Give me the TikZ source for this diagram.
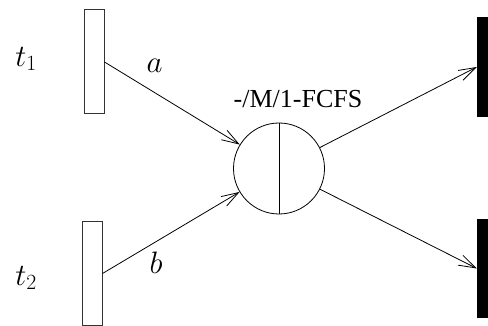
\RequirePackage{fix-cm}
\documentclass[tikz,border=0pt]{standalone}
\usepackage{fontspec}
\setmainfont{Liberation Serif}
\usepackage{tikz}
\usetikzlibrary{arrows.meta, positioning}

\begin{document}
\begin{tikzpicture}[x=1pt, y=-1pt,
    trans/.style={rectangle, draw=black!80, line width=1pt, minimum width=20pt, inner sep=0pt},
    sink/.style={rectangle, fill=black, minimum width=11pt, inner sep=0pt},
    station/.style={circle, draw, line width=0.8pt, minimum size=91pt, inner sep=0pt},
    mlabel/.style={font=\fontsize{31}{37}\selectfont, inner sep=0pt},
    arrow/.style={draw=black, line width=0.8pt, -{Straight Barb[length=17pt,width=11pt,line width=0.8pt]}}]

    \useasboundingbox (0,0) rectangle (488,326);

    \node [trans, minimum height=104pt] (t1box) at (94,62) {};
    \node [trans, minimum height=103pt] (t2box) at (92,273.5) {};
    \node [station] (q) at (279,168.5) {};
    \node [sink, minimum height=100pt] (out1) at (482.5,67) {};
    \node [sink, minimum height=99pt] (out2) at (482.5,268.5) {};

    \node [mlabel] (t1) at (26,59) {$t_1$};
    \node [mlabel] (t2) at (26,278) {$t_2$};
    \node [mlabel] (a) at (154.5,66) {$a$};
    \node [mlabel] (b) at (156,263) {$b$};
    \node [font=\fontsize{26}{31}\selectfont, inner sep=0pt] (qlabel) at (298,99) {-/M/1-FCFS};

    \draw [line width=0.8pt] (q.north) -- (q.south);

    \draw [arrow] (t1box.east) -- (q);
    \draw [arrow] (t2box.east) -- (q);
    \draw [arrow] (q) -- (out1.west);
    \draw [arrow] (q) -- (out2.west);

\end{tikzpicture}
\end{document}
